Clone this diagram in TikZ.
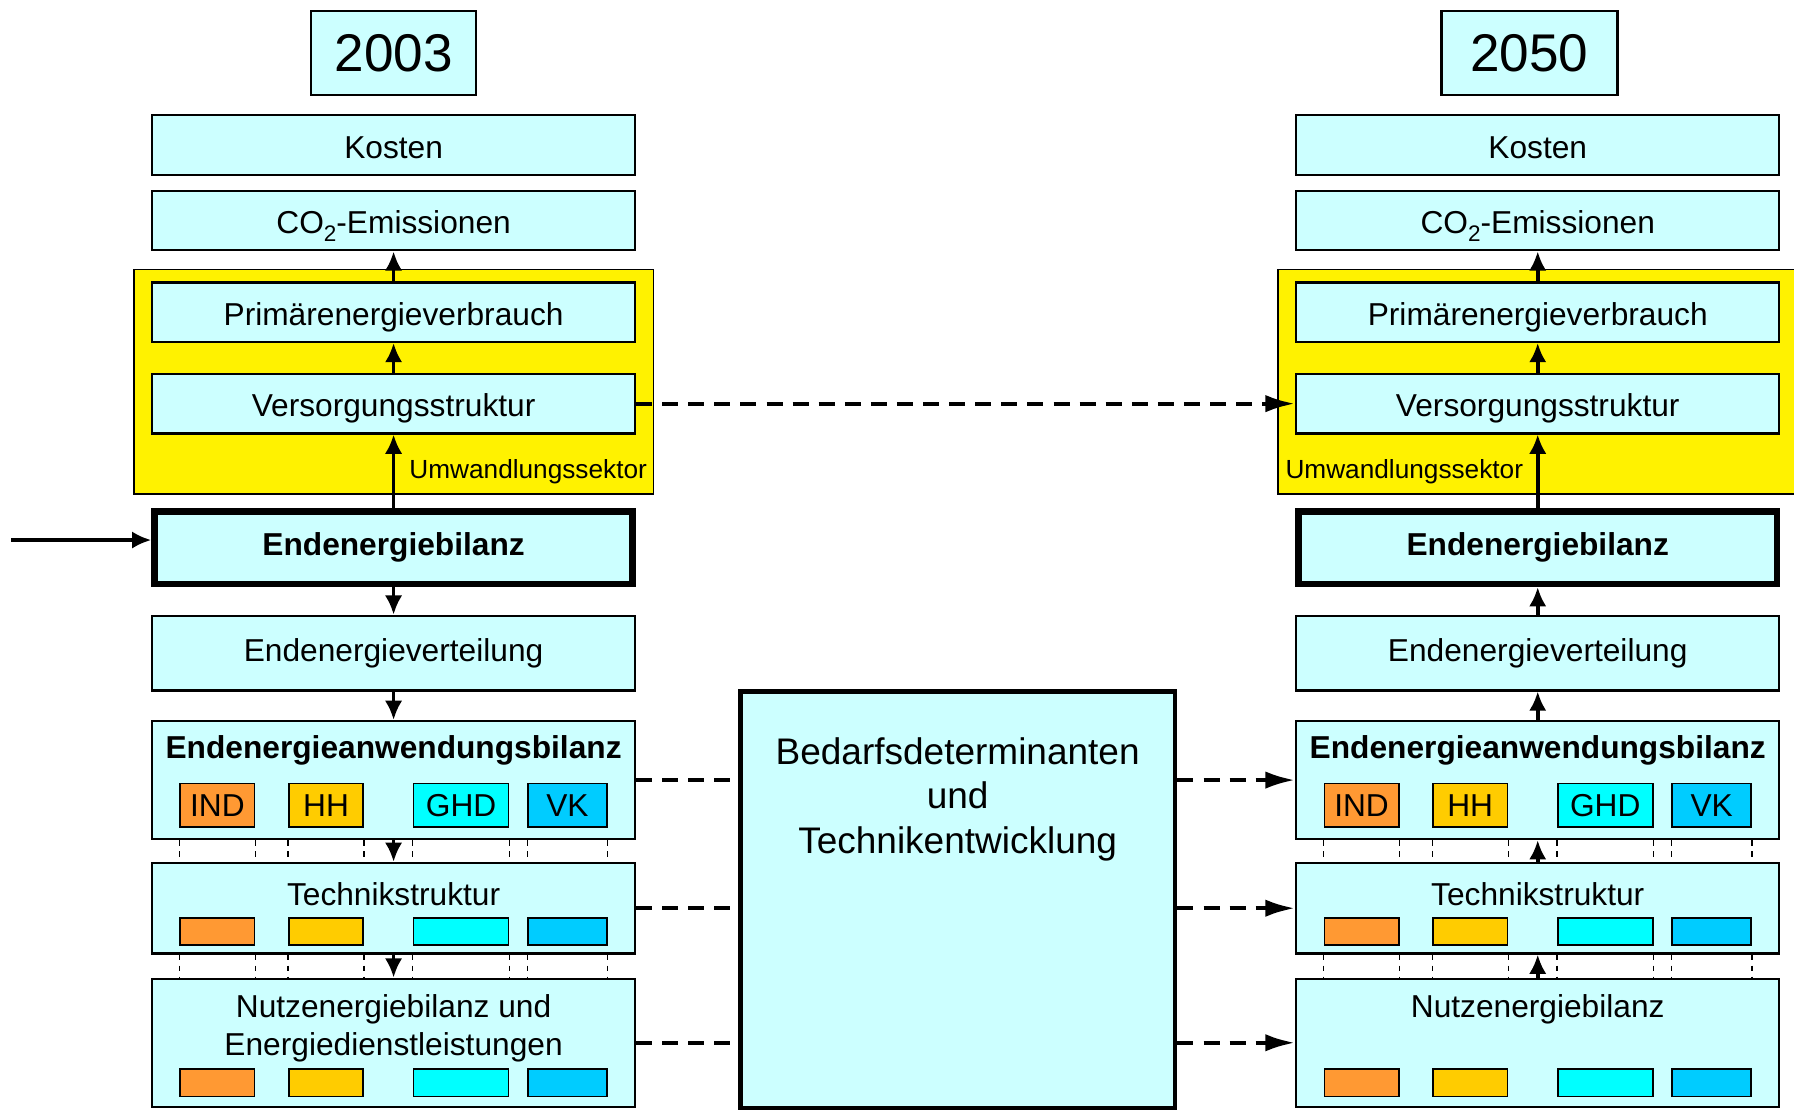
\documentclass[tikz,border=0pt]{standalone}
\usepackage{fontspec}
\setmainfont{Liberation Sans}
\usepackage{tikz}
\usetikzlibrary{shapes,arrows,arrows.meta}
\definecolor{boxcyan}{HTML}{CCFFFF}
\definecolor{ind}{HTML}{FF9933}
\definecolor{hh}{HTML}{FFCC00}
\definecolor{ghd}{HTML}{00FFFF}
\definecolor{vk}{HTML}{00CCFF}
\newcommand{\boxfont}{\fontsize{19.7}{23.5}\selectfont}
\newcommand{\yearfont}{\fontsize{33}{40}\selectfont}
\newcommand{\labelfont}{\fontsize{16.3}{19}\selectfont}
\newcommand{\bigfont}{\fontsize{23}{27.7}\selectfont}
\newcommand{\cotwo}{CO\raisebox{-0.45ex}{\fontsize{14}{14}\selectfont 2}}
\tikzstyle{block} = [draw, rectangle, fill=boxcyan, line width=1.4pt, minimum height=1.3cm, minimum width=10.55cm, font=\boxfont]
\tikzstyle{topblock} = [block, text height=16.5pt, text depth=0pt]
\tikzstyle{bigblock} = [block, line width=4pt, minimum height=1.58cm, minimum width=10.45cm, font=\boxfont\bfseries]
\tikzstyle{yearbox} = [draw, rectangle, fill=boxcyan, line width=1.4pt, minimum height=1.84cm, font=\yearfont]
\tikzstyle{sector} = [draw, rectangle, fill=yellow, line width=1pt, minimum width=11.35cm, minimum height=4.9cm]
\tikzstyle{sectorbox} = [draw, rectangle, line width=1pt, minimum height=0.6cm, inner sep=0pt, font=\boxfont]
\tikzstyle{caption} = [inner sep=0pt]
\tikzstyle{flow} = [->, line width=2.2pt]
\tikzstyle{link} = [-{Latex[length=0.65cm, width=0.38cm]}, line width=2.6pt, dash pattern=on 0.35cm off 0.22cm]
\tikzstyle{dotline} = [line width=0.8pt, dash pattern=on 0.12cm off 0.12cm]

\begin{document}
\begin{tikzpicture}[auto, >={Latex[length=0.42cm, width=0.38cm]}]
    \useasboundingbox (0,0) rectangle (39.2,-24.3);
    \clip (0,0) rectangle (39.2,-24.3);

    % 2003
    \node [sector] (sektor1) at (8.6,-8.34) {};
    \node [caption, anchor=base east, font=\labelfont] (umwandlung1) at ([xshift=-0.15cm, yshift=0.35cm]sektor1.south east) {Umwandlungssektor};
    \node [yearbox, minimum width=3.6cm] (year1) at (8.6,-1.16) {2003};
    \node [topblock, below of=year1, node distance=2.01cm] (kosten1) {Kosten};
    \node [topblock, below of=kosten1, node distance=1.65cm] (emission1) {\cotwo-Emissionen};
    \node [topblock, below of=emission1, node distance=2cm] (primaer1) {Primärenergieverbrauch};
    \node [topblock, below of=primaer1, node distance=2cm] (versorgung1) {Versorgungsstruktur};
    \node [bigblock, below of=versorgung1, node distance=3.15cm] (bilanz1) {Endenergiebilanz};
    \node [block, below of=bilanz1, node distance=2.3cm, minimum height=1.63cm] (verteilung1) {Endenergieverteilung};
    \node [block, below of=verteilung1, node distance=2.775cm, minimum height=2.58cm] (anwendung1) {};
    \node [block, below of=anwendung1, node distance=2.8cm, minimum height=1.98cm] (technik1) {};
    \node [block, below of=technik1, node distance=2.94cm, minimum height=2.8cm] (nutzen1) {};
    \node [caption, font=\boxfont\bfseries] (anwendung1-title) at ([yshift=-0.675cm]anwendung1.north) {Endenergieanwendungsbilanz};
    \node [caption, font=\boxfont] (technik1-title) at ([yshift=-0.7cm]technik1.north) {Technikstruktur};
    \node [caption, font=\boxfont, align=center] (nutzen1-title) at ([yshift=-1.11cm]nutzen1.north) {Nutzenergiebilanz und\\Energiedienstleistungen};

    % 2050
    \node [sector] (sektor2) at (33.6,-8.34) {};
    \node [caption, anchor=base west, font=\labelfont] (umwandlung2) at ([xshift=0.175cm, yshift=0.35cm]sektor2.south west) {Umwandlungssektor};
    \node [yearbox, minimum width=3.85cm] (year2) at (33.42,-1.16) {2050};
    \node [topblock, right of=kosten1, node distance=25cm] (kosten2) {Kosten};
    \node [topblock, below of=kosten2, node distance=1.65cm] (emission2) {\cotwo-Emissionen};
    \node [topblock, below of=emission2, node distance=2cm] (primaer2) {Primärenergieverbrauch};
    \node [topblock, below of=primaer2, node distance=2cm] (versorgung2) {Versorgungsstruktur};
    \node [bigblock, below of=versorgung2, node distance=3.15cm] (bilanz2) {Endenergiebilanz};
    \node [block, below of=bilanz2, node distance=2.3cm, minimum height=1.63cm] (verteilung2) {Endenergieverteilung};
    \node [block, below of=verteilung2, node distance=2.775cm, minimum height=2.58cm] (anwendung2) {};
    \node [block, below of=anwendung2, node distance=2.8cm, minimum height=1.98cm] (technik2) {};
    \node [block, below of=technik2, node distance=2.94cm, minimum height=2.8cm] (nutzen2) {};
    \node [caption, font=\boxfont\bfseries] (anwendung2-title) at ([yshift=-0.675cm]anwendung2.north) {Endenergieanwendungsbilanz};
    \node [caption, font=\boxfont] (technik2-title) at ([yshift=-0.7cm]technik2.north) {Technikstruktur};
    \node [caption, font=\boxfont] (nutzen2-title) at ([yshift=-0.7cm]nutzen2.north) {Nutzenergiebilanz};

    % sectors IND, HH, GHD, VK
    \foreach \row in {anwendung1, anwendung2}
      \foreach \sec/\dx/\w/\txt in {ind/-3.85/1.625/IND, hh/-1.475/1.625/HH, ghd/1.475/2.075/GHD, vk/3.8/1.725/VK}
        \node [sectorbox, fill=\sec, minimum width=\w cm, minimum height=0.95cm] (\row-\sec) at ([xshift=\dx cm, yshift=-0.55cm]\row) {\txt};
    \foreach \row/\dy in {technik1/-0.51, technik2/-0.51, nutzen1/-0.875, nutzen2/-0.875}
      \foreach \sec/\dx/\w in {ind/-3.85/1.625, hh/-1.475/1.625, ghd/1.475/2.075, vk/3.8/1.725}
        \node [sectorbox, fill=\sec, minimum width=\w cm] (\row-\sec) at ([xshift=\dx cm, yshift=\dy cm]\row) {};
    \foreach \col in {1,2}
      \foreach \sec in {ind,hh,ghd,vk}
        \foreach \side in {west,east} {
          \draw [dotline] (anwendung\col-\sec.\side |- anwendung\col.south) -- (anwendung\col-\sec.\side |- technik\col.north);
          \draw [dotline] (anwendung\col-\sec.\side |- technik\col.south) -- (anwendung\col-\sec.\side |- nutzen\col.north);
        }

    % Bedarfsdeterminanten
    \node [block, line width=3pt, minimum width=9.5cm, minimum height=9.1cm] (bedarf) at (20.925,-19.66) {};
    \node [caption, font=\bigfont, align=center, anchor=north] (bedarf-title) at ([yshift=-1.05cm]bedarf.north) {Bedarfsdeterminanten\\und\\Technikentwicklung};

    % arrows 2003
    \coordinate (start) at (0.25,-11.8);
    \draw [flow] (start) -- (start -| bilanz1.west);
    \draw [flow] (bilanz1) -- (versorgung1);
    \draw [flow] (versorgung1) -- (primaer1);
    \draw [flow] (primaer1) -- (emission1);
    \draw [flow] (bilanz1) -- (verteilung1);
    \draw [flow] (verteilung1) -- (anwendung1);
    \draw [flow] (anwendung1) -- (technik1);
    \draw [flow] (technik1) -- (nutzen1);

    % arrows 2050
    \draw [flow] (nutzen2) -- (technik2);
    \draw [flow] (technik2) -- (anwendung2);
    \draw [flow] (anwendung2) -- (verteilung2);
    \draw [flow] (verteilung2) -- (bilanz2);
    \draw [flow] (bilanz2) -- (versorgung2);
    \draw [flow] (versorgung2) -- (primaer2);
    \draw [flow] (primaer2) -- (emission2);

    % dashed links
    \draw [link] (versorgung1) -- (versorgung2);
    \draw [link, -] (anwendung1.east) -- (anwendung1.east -| bedarf.west);
    \draw [link] (anwendung2.west -| bedarf.east) -- (anwendung2.west);
    \draw [link, -] (technik1.east) -- (technik1.east -| bedarf.west);
    \draw [link] (technik2.west -| bedarf.east) -- (technik2.west);
    \draw [link, -] (nutzen1.east) -- (nutzen1.east -| bedarf.west);
    \draw [link] (nutzen2.west -| bedarf.east) -- (nutzen2.west);
\end{tikzpicture}
\end{document}
